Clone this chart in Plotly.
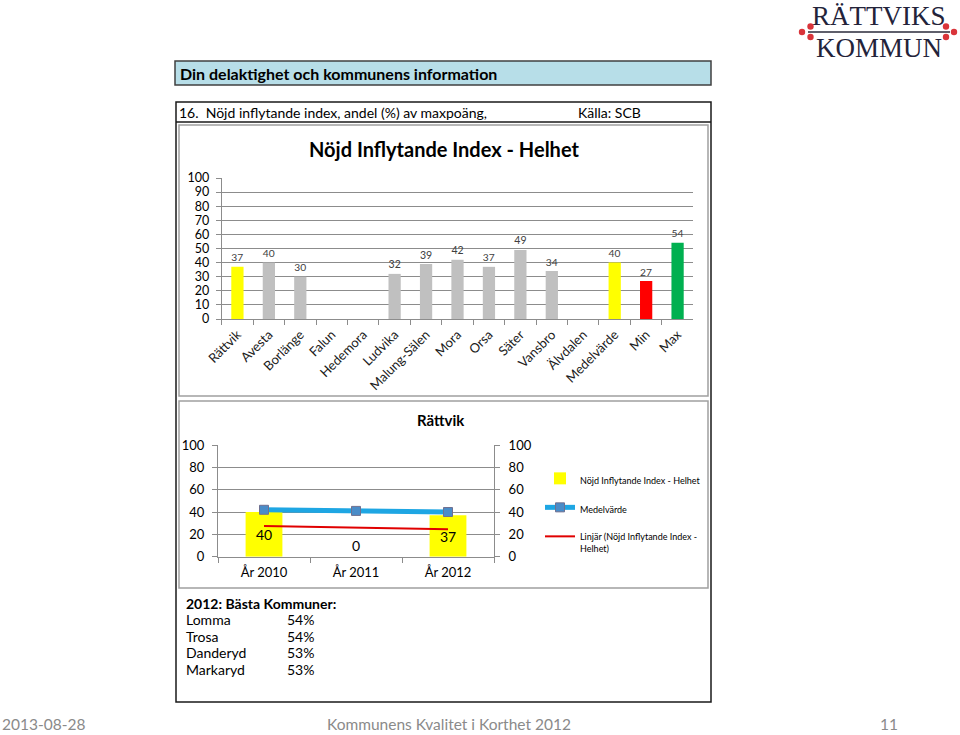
import plotly.graph_objects as go

# ---------------- Data ----------------
categories = ["Rättvik", "Avesta", "Borlänge", "Falun", "Hedemora", "Ludvika",
              "Malung-Sälen", "Mora", "Orsa", "Säter", "Vansbro", "Älvdalen",
              "Medelvärde", "Min", "Max"]
values = [37, 40, 30, None, None, 32, 39, 42, 37, 49, 34, None, 40, 27, 54]

years = ["År 2010", "År 2011", "År 2012"]
rattvik_values = [40, 0, 37]
medel_values = [42, 41, 40]
trend_years = ["År 2010", "År 2012"]
trend_values = [27.5, 24.5]

best_names = ["Lomma", "Trosa", "Danderyd", "Markaryd"]
best_pct = ["54%", "54%", "53%", "53%"]

top_ticks = list(range(0, 101, 10))
bottom_ticks = list(range(0, 101, 20))

# ---------------- Styles ----------------
W, H = 960, 735
FONT = "Lato"
GRID = "#8C8C8C"
special_colors = {"Rättvik": "#FFFF00", "Medelvärde": "#FFFF00",
                  "Min": "#FF0000", "Max": "#00B050"}
bar_colors = [special_colors.get(c, "#C0C0C0") for c in categories]


def px(x):
    return x / W


def py(y):
    return 1 - y / H


fig = go.Figure()

# Top chart bars
fig.add_trace(go.Bar(
    x=categories, y=values, marker=dict(color=bar_colors, line=dict(width=0)),
    text=["" if v is None else str(v) for v in values],
    textposition="outside", textfont=dict(size=13, color="#404040", family=FONT),
    width=0.39, cliponaxis=False, showlegend=False, xaxis="x", yaxis="y",
    hoverinfo="x+y"))

# Bottom chart
fig.add_trace(go.Bar(
    x=years, y=rattvik_values, name="Nöjd Inflytande Index - Helhet",
    marker=dict(color="#FFFF00", line=dict(width=0)),
    text=[str(v) for v in rattvik_values],
    textposition=["inside" if v else "outside" for v in rattvik_values],
    insidetextanchor="middle", constraintext="none",
    textfont=dict(size=14, color="#000000", family=FONT),
    width=0.4, cliponaxis=False, xaxis="x2", yaxis="y2", legendgroup="a"))
fig.add_trace(go.Scatter(
    x=years, y=medel_values, name="Medelvärde", mode="lines+markers",
    line=dict(color="#1EA6E3", width=5),
    marker=dict(symbol="square", size=9, color="#4A8CC8",
                line=dict(color="#6F7090", width=1)),
    xaxis="x2", yaxis="y2", legendgroup="b"))
fig.add_trace(go.Scatter(
    x=trend_years, y=trend_values, name="Linjär (Nöjd Inflytande Index -<br>Helhet)",
    mode="lines", line=dict(color="#E00000", width=2),
    xaxis="x2", yaxis="y2", legendgroup="c"))
# invisible trace for the right axis
fig.add_trace(go.Scatter(
    x=years, y=rattvik_values, mode="markers", marker=dict(opacity=0),
    showlegend=False, hoverinfo="skip", xaxis="x2", yaxis="y3"))

axis_common = dict(showline=True, linecolor=GRID, linewidth=1, ticks="outside",
                   ticklen=5, tickcolor=GRID, zeroline=False, automargin=False)

fig.update_layout(
    width=W, height=H, margin=dict(l=0, r=0, t=0, b=0, autoexpand=False),
    paper_bgcolor="white", plot_bgcolor="white",
    font=dict(family=FONT, color="#000000"),
    xaxis=dict(domain=[px(221.7), px(693.3)], anchor="y", tickangle=-45,
               tickson="boundaries", showgrid=False, ticklabelstandoff=2,
               tickfont=dict(size=13, color="#202020"), **axis_common),
    yaxis=dict(domain=[py(319), py(178)], anchor="x", range=[0, 100],
               tickvals=top_ticks, showgrid=True, gridcolor=GRID, gridwidth=1,
               ticklabelstandoff=4,
               tickfont=dict(size=12.5, color="#000000"), **axis_common),
    xaxis2=dict(domain=[px(218), px(494)], anchor="y2", tickson="boundaries",
                showgrid=False, ticklabelstandoff=4,
                tickfont=dict(size=13, color="#000000"), **axis_common),
    yaxis2=dict(domain=[py(556.7), py(445)], anchor="x2", range=[0, 100],
                tickvals=bottom_ticks, showgrid=True, gridcolor=GRID, gridwidth=1,
                ticklabelstandoff=5,
                tickfont=dict(size=13, color="#000000"), **axis_common),
    yaxis3=dict(overlaying="y2", side="right", anchor="x2", range=[0, 100],
                tickvals=bottom_ticks, showgrid=False, ticklabelstandoff=6,
                tickfont=dict(size=13, color="#000000"), **axis_common),
    bargap=0.6,
    showlegend=True,
    legend=dict(x=px(540), y=py(466), xanchor="left", yanchor="top",
                font=dict(size=9, family=FONT, color="#000000"),
                traceorder="grouped", tracegroupgap=10, itemwidth=30,
                valign="top", bgcolor="rgba(0,0,0,0)"),
)

shapes = []


def rect(x0, y0, x1, y1, color, width=1, fill=None):
    shapes.append(dict(type="rect", xref="paper", yref="paper",
                       x0=px(x0), x1=px(x1), y0=py(y1), y1=py(y0),
                       line=dict(color=color, width=width),
                       fillcolor=fill if fill else "rgba(0,0,0,0)", layer="below"))


def hline(x0, x1, y, color, width=1):
    shapes.append(dict(type="line", xref="paper", yref="paper",
                       x0=px(x0), x1=px(x1), y0=py(y), y1=py(y),
                       line=dict(color=color, width=width)))


# header bar
rect(175, 61, 711, 85, "#404040", 1.5, "#B7DEE8")
# outer box
rect(176, 102, 711, 702, "#1A1A1A", 1.5)
hline(176, 711, 122, "#1A1A1A", 1.5)
# chart frames
rect(179, 125, 708, 396, "#A0A0A0", 1.5)
rect(179, 401, 708, 588, "#A0A0A0", 1.5)
# logo line and dots
hline(808, 950, 32, "#2A2A3A", 1.5)
for (cx, cy) in [(802, 32), (810.5, 26.5), (810.5, 37), (946, 26.5), (946, 37), (954, 32)]:
    shapes.append(dict(type="circle", xref="paper", yref="paper",
                       x0=px(cx - 3.2), x1=px(cx + 3.2), y0=py(cy + 3.2), y1=py(cy - 3.2),
                       line=dict(width=0), fillcolor="#D9343A"))

annotations = []


def text(x, y, s, size, anchor="left", bold=False, color="#000000", family=FONT):
    annotations.append(dict(xref="paper", yref="paper", x=px(x), y=py(y),
                            xanchor=anchor, yanchor="middle", showarrow=False,
                            text=f"<b>{s}</b>" if bold else s,
                            font=dict(size=size, color=color, family=family)))


text(178, 73, "Din delaktighet och kommunens information", 16, bold=True)
text(177, 112, "16.  Nöjd inflytande index, andel (%) av maxpoäng,", 14)
text(576, 112, "Källa: SCB", 14)
text(444, 149, "Nöjd Inflytande Index - Helhet", 20, anchor="center", bold=True)
text(441, 420, "Rättvik", 15, anchor="center", bold=True)
text(184, 603, "2012: Bästa Kommuner:", 14, bold=True)
for i, (n, p) in enumerate(zip(best_names, best_pct)):
    text(184, 619.5 + i * 16.7, n, 14)
    text(285, 619.5 + i * 16.7, p, 14)
text(0, 724, "2013-08-28", 15.5, color="#8A8A8A")
text(449, 724, "Kommunens Kvalitet i Korthet 2012", 15.5, anchor="center", color="#8A8A8A")
text(878, 724, "11", 15.5, color="#8A8A8A")
text(879, 16, "RÄTTVIKS", 27, anchor="center", color="#23233A", family="Liberation Serif")
text(879, 48, "KOMMUN", 27, anchor="center", color="#23233A", family="Liberation Serif")

fig.update_layout(shapes=shapes, annotations=annotations)

fig.write_html("out.html")
